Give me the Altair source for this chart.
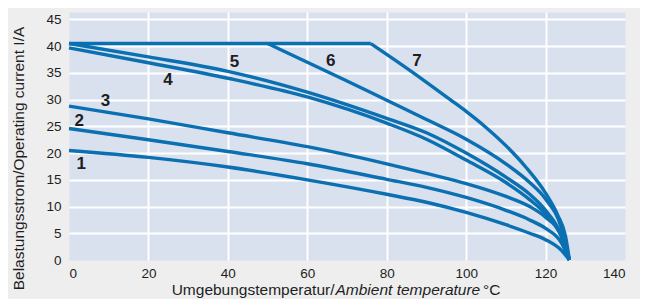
import altair as alt
import pandas as pd

# ---- data ----
curve_names = ["0", "1", "2", "3", "4", "5", "6", "7"]

flat_x = [0, 76]
flat_y = [40.5, 40.5]

c1_x = [0, 20, 40, 60, 80, 90, 100, 110, 116, 120, 124, 126]
c1_y = [20.5, 19.2, 17.4, 15.0, 12.3, 10.8, 8.9, 6.6, 5.0, 3.8, 1.8, 0]

c2_x = [0, 20, 40, 60, 80, 90, 100, 110, 116, 120, 124, 126]
c2_y = [24.6, 22.5, 20.3, 18.0, 15.1, 13.6, 11.7, 9.3, 7.5, 5.9, 3.2, 0]

c3_x = [0, 20, 40, 60, 80, 90, 100, 110, 116, 120, 124, 126]
c3_y = [28.8, 26.4, 23.8, 21.2, 18.0, 16.2, 14.3, 11.9, 10.0, 8.0, 4.6, 0]

c4_x = [0, 20, 40, 60, 80, 90, 100, 110, 116, 120, 124, 126]
c4_y = [39.7, 36.9, 34.0, 30.5, 25.6, 22.6, 18.7, 14.5, 11.3, 8.6, 4.3, 0]

c5_x = [0, 20, 40, 60, 80, 90, 100, 110, 116, 120, 124, 126]
c5_y = [40.5, 38.0, 35.3, 31.4, 26.5, 23.8, 20.0, 15.5, 12.3, 9.3, 4.6, 0]

c6_x = [50, 60, 70, 80, 90, 100, 110, 116, 120, 124, 126]
c6_y = [40.5, 37.0, 33.5, 29.9, 26.3, 22.6, 18.0, 14.5, 11.4, 6.0, 0]

c7_x = [76, 86, 96, 100, 105, 110, 115, 120, 123, 125, 126]
c7_y = [40.5, 35.4, 30.0, 27.8, 24.8, 21.4, 17.4, 12.5, 8.5, 4.5, 0]

label_text = ["1", "2", "3", "4", "5", "6", "7"]
label_x = [3.1, 2.6, 9.2, 24.9, 41.7, 65.9, 87.6]
label_y = [18.0, 26.1, 29.7, 33.75, 37.0, 37.2, 37.2]

x_ticks = [0, 20, 40, 60, 80, 100, 120, 140]
y_ticks = [0, 5, 10, 15, 20, 25, 30, 35, 40, 45]

y_title = "Belastungsstrom/Operating current I/A"
x_title_parts = ["Umgebungstemperatur/", "Ambient temperature", "°C"]

# ---- build table ----
series = [(flat_x, flat_y), (c1_x, c1_y), (c2_x, c2_y), (c3_x, c3_y),
          (c4_x, c4_y), (c5_x, c5_y), (c6_x, c6_y), (c7_x, c7_y)]
rows = []
for name, (xs_, ys_) in zip(curve_names, series):
    for i, (xv, yv) in enumerate(zip(xs_, ys_)):
        rows.append({"curve": name, "i": i, "x": xv, "y": yv})
df = pd.DataFrame(rows)
labels = pd.DataFrame({"t": label_text, "x": label_x, "y": label_y})

FONT = "'Liberation Sans', Arial, sans-serif"
LINE = "#0a70b2"
TXT = "#1e1e1e"
TSIZE = 15.5

xs = alt.Scale(domain=[0, 140], nice=False, zero=False)
ys = alt.Scale(domain=[0, 46.4], nice=False, zero=False)

x_axis = alt.Axis(values=x_ticks, title=None, grid=True, gridColor="white",
                  gridWidth=2, labelOverlap=False,
                  gridOpacity={"condition": {"test": "datum.value === 0 || datum.value === 140", "value": 0}, "value": 1},
                  ticks=False, domain=False, labelFont=FONT, labelFontSize=13.5,
                  labelColor=TXT, labelPadding=6)
y_axis = alt.Axis(values=y_ticks, title=y_title, grid=True, gridColor="white",
                  gridWidth=2, labelOverlap=False,
                  gridOpacity={"condition": {"test": "datum.value === 0", "value": 0}, "value": 1},
                  ticks=False, domain=False, labelFont=FONT, labelFontSize=13.5,
                  labelColor=TXT, labelPadding=8, titleFont=FONT,
                  titleFontSize=TSIZE, titleFontWeight="normal", titleColor=TXT,
                  titleX=-45.5, titleY=146, titleAlign="center",
                  titleBaseline="alphabetic", titleAngle=270)

lines = alt.Chart(df).mark_line(interpolate="monotone", strokeWidth=3.4,
                                color=LINE).encode(
    x=alt.X("x:Q", scale=xs, axis=x_axis),
    y=alt.Y("y:Q", scale=ys, axis=y_axis),
    detail="curve:N",
    order="i:Q",
)

nums = alt.Chart(labels).mark_text(font=FONT, fontSize=17, fontWeight="bold",
                                   color=TXT, baseline="middle",
                                   align="center").encode(
    x=alt.X("x:Q", scale=xs, axis=x_axis),
    y=alt.Y("y:Q", scale=ys, axis=y_axis),
    text="t:N")

t1 = alt.Chart(pd.DataFrame({"t": [x_title_parts[0]]})).mark_text(
    font=FONT, fontSize=TSIZE, color=TXT, align="right",
    baseline="alphabetic").encode(x=alt.value(265.5), y=alt.value(282.5),
                                  text="t:N")
t2 = alt.Chart(pd.DataFrame({"t": [x_title_parts[1]]})).mark_text(
    font=FONT, fontSize=TSIZE, color=TXT, align="left", fontStyle="italic",
    baseline="alphabetic").encode(x=alt.value(266.5), y=alt.value(282.5),
                                  text="t:N")
t3 = alt.Chart(pd.DataFrame({"t": [x_title_parts[2]]})).mark_text(
    font=FONT, fontSize=TSIZE, color=TXT, align="left",
    baseline="alphabetic").encode(x=alt.value(414), y=alt.value(282.5),
                                  text="t:N")

chart = alt.layer(lines, nums, t1, t2, t3).properties(
    width=556, height=248,
    autosize=alt.AutoSizeParams(type="none"),
    padding={"left": 61, "top": 4, "right": 15, "bottom": 39},
    background="#eeeeee",
).configure_view(fill="#d9e0ee", stroke="transparent")

chart.save("out.html", embed_options={"renderer": "svg", "actions": False})
